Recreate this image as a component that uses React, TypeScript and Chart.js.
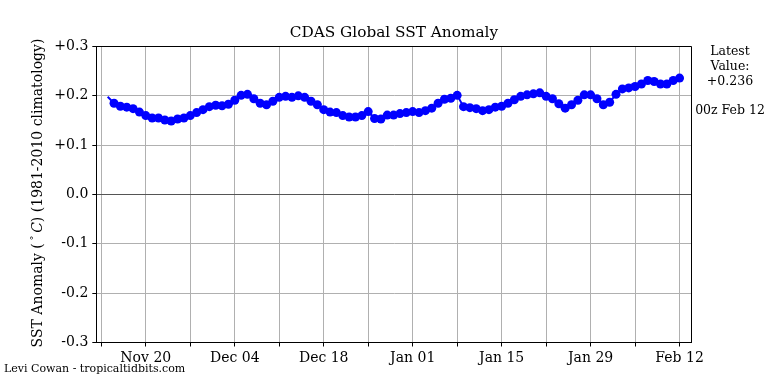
import React, { useEffect, useRef } from "react";
import { Chart, registerables } from "chart.js";

Chart.register(...registerables);

// ---- data ----
const ORIGIN_DATE = "2023-11-13"; // day 0 of the x scale
const DATES: string[] = [
  "2023-11-14", "2023-11-15", "2023-11-16", "2023-11-17", "2023-11-18", "2023-11-19", "2023-11-20",
  "2023-11-21", "2023-11-22", "2023-11-23", "2023-11-24", "2023-11-25", "2023-11-26", "2023-11-27",
  "2023-11-28", "2023-11-29", "2023-11-30", "2023-12-01", "2023-12-02", "2023-12-03", "2023-12-04",
  "2023-12-05", "2023-12-06", "2023-12-07", "2023-12-08", "2023-12-09", "2023-12-10", "2023-12-11",
  "2023-12-12", "2023-12-13", "2023-12-14", "2023-12-15", "2023-12-16", "2023-12-17", "2023-12-18",
  "2023-12-19", "2023-12-20", "2023-12-21", "2023-12-22", "2023-12-23", "2023-12-24", "2023-12-25",
  "2023-12-26", "2023-12-27", "2023-12-28", "2023-12-29", "2023-12-30", "2023-12-31", "2024-01-01",
  "2024-01-02", "2024-01-03", "2024-01-04", "2024-01-05", "2024-01-06", "2024-01-07", "2024-01-08",
  "2024-01-09", "2024-01-10", "2024-01-11", "2024-01-12", "2024-01-13", "2024-01-14", "2024-01-15",
  "2024-01-16", "2024-01-17", "2024-01-18", "2024-01-19", "2024-01-20", "2024-01-21", "2024-01-22",
  "2024-01-23", "2024-01-24", "2024-01-25", "2024-01-26", "2024-01-27", "2024-01-28", "2024-01-29",
  "2024-01-30", "2024-01-31", "2024-02-01", "2024-02-02", "2024-02-03", "2024-02-04", "2024-02-05",
  "2024-02-06", "2024-02-07", "2024-02-08", "2024-02-09", "2024-02-10", "2024-02-11", "2024-02-12",
];

const SST_ANOMALY: number[] = [
  0.198, 0.185, 0.179, 0.177, 0.174, 0.167, 0.160,
  0.155, 0.155, 0.151, 0.149, 0.153, 0.155, 0.160,
  0.166, 0.172, 0.178, 0.181, 0.180, 0.183, 0.191,
  0.201, 0.203, 0.194, 0.185, 0.182, 0.189, 0.197,
  0.199, 0.197, 0.200, 0.197, 0.189, 0.182, 0.172,
  0.167, 0.166, 0.160, 0.157, 0.157, 0.160, 0.168,
  0.154, 0.153, 0.161, 0.161, 0.164, 0.166, 0.168,
  0.166, 0.170, 0.175, 0.185, 0.193, 0.195, 0.201,
  0.178, 0.176, 0.174, 0.170, 0.172, 0.177, 0.179,
  0.185, 0.192, 0.199, 0.202, 0.204, 0.206, 0.199,
  0.194, 0.184, 0.175, 0.182, 0.191, 0.202, 0.202,
  0.194, 0.182, 0.187, 0.203, 0.214, 0.216, 0.219,
  0.224, 0.231, 0.229, 0.224, 0.224, 0.231, 0.236,
];

const X_TICK_DATES: string[] = [
  "2023-11-13", "2023-11-20", "2023-11-27", "2023-12-04", "2023-12-11", "2023-12-18", "2023-12-25",
  "2024-01-01", "2024-01-08", "2024-01-15", "2024-01-22", "2024-01-29", "2024-02-05", "2024-02-12",
];
const X_TICK_LABELS: Record<string, string> = {
  "2023-11-20": "Nov 20",
  "2023-12-04": "Dec 04",
  "2023-12-18": "Dec 18",
  "2024-01-01": "Jan 01",
  "2024-01-15": "Jan 15",
  "2024-01-29": "Jan 29",
  "2024-02-12": "Feb 12",
};
const Y_TICKS: number[] = [-0.3, -0.2, -0.1, 0, 0.1, 0.2, 0.3];
const Y_TICK_LABELS: string[] = ["-0.3", "-0.2", "-0.1", "0.0", "+0.1", "+0.2", "+0.3"];

const TITLE = "CDAS Global SST Anomaly";
const Y_TITLE_PRE = "SST Anomaly (";
const Y_TITLE_DEG = "\u00B0";
const Y_TITLE_UNIT = "C";
const Y_TITLE_POST = ") (1981-2010 climatology)";
const SIDE_TEXT = ["Latest", "Value:", "+0.236"];
const SIDE_TIME = "00z Feb 12";
const CREDIT = "Levi Cowan - tropicaltidbits.com";

// ---- helpers ----
const dayOf = (iso: string) => {
  const [y, m, d] = iso.split("-").map(Number);
  const [oy, om, od] = ORIGIN_DATE.split("-").map(Number);
  return Math.round((Date.UTC(y, m - 1, d) - Date.UTC(oy, om - 1, od)) / 86400000);
};

const X_MIN = -0.79;
const X_MAX = 92.88;
const FONT = "'DejaVu Serif', serif";

export default function App() {
  const ref = useRef<HTMLCanvasElement | null>(null);

  useEffect(() => {
    document.body.style.margin = "0";
    const canvas = ref.current;
    if (!canvas) return;

    const points = DATES.map((d, i) => ({ x: dayOf(d), y: SST_ANOMALY[i] }));
    const tickDays = X_TICK_DATES.map(dayOf);
    const labelByDay: Record<number, string> = {};
    X_TICK_DATES.forEach((d) => {
      labelByDay[dayOf(d)] = X_TICK_LABELS[d] || "";
    });

    const textPlugin = {
      id: "texts",
      afterDraw(chart: any) {
        const { ctx, chartArea } = chart;
        ctx.save();
        // frame
        const l = Math.floor(chartArea.left) + 0.5;
        const r = Math.floor(chartArea.right) + 0.5;
        const t = Math.floor(chartArea.top) + 0.5;
        const b = Math.floor(chartArea.bottom) + 0.5;
        ctx.strokeStyle = "#000";
        ctx.lineWidth = 1;
        ctx.beginPath();
        ctx.moveTo(l, t);
        ctx.lineTo(r, t);
        ctx.lineTo(r, b);
        ctx.stroke();
        ctx.fillStyle = "#000";
        ctx.textAlign = "center";
        ctx.textBaseline = "middle";
        // title
        ctx.font = `15.3px ${FONT}`;
        ctx.fillText(TITLE, (chartArea.left + chartArea.right) / 2, 33);
        // side text
        ctx.font = `12.5px ${FONT}`;
        SIDE_TEXT.forEach((s, i) => ctx.fillText(s, 730, 52 + i * 15));
        ctx.fillText(SIDE_TIME, 730, 111);
        // credit
        ctx.textAlign = "left";
        ctx.font = `11px ${FONT}`;
        ctx.fillText(CREDIT, 4, 369);
        // y title (rotated), built from pieces: normal, superscript degree, italic C
        ctx.translate(37, 193);
        ctx.rotate(-Math.PI / 2);
        ctx.textAlign = "left";
        ctx.textBaseline = "alphabetic";
        const fN = `14px ${FONT}`;
        const fS = `10px ${FONT}`;
        const fI = `italic 14px ${FONT}`;
        ctx.font = fN;
        const w1 = ctx.measureText(Y_TITLE_PRE).width;
        const sp = ctx.measureText(" ").width * 0.6;
        ctx.font = fS;
        const w2 = ctx.measureText(Y_TITLE_DEG).width;
        ctx.font = fI;
        const w3 = ctx.measureText(Y_TITLE_UNIT).width;
        ctx.font = fN;
        const w4 = ctx.measureText(Y_TITLE_POST).width;
        const total = w1 + sp + w2 + sp + w3 + w4;
        let x = -total / 2;
        const base = 5;
        ctx.font = fN;
        ctx.fillText(Y_TITLE_PRE, x, base);
        x += w1 + sp;
        ctx.font = fS;
        ctx.fillText(Y_TITLE_DEG, x, base - 5);
        x += w2 + sp;
        ctx.font = fI;
        ctx.fillText(Y_TITLE_UNIT, x, base);
        x += w3;
        ctx.font = fN;
        ctx.fillText(Y_TITLE_POST, x, base);
        ctx.restore();
      },
    };

    const chart = new Chart(canvas, {
      type: "line",
      data: {
        datasets: [
          {
            data: points,
            borderColor: "#0000ff",
            backgroundColor: "#0000ff",
            borderWidth: 2,
            tension: 0,
            pointRadius: (c: any) => (c.dataIndex === 0 ? 0 : 4.5),
            pointBorderWidth: 0,
            pointHoverRadius: 4.5,
          },
        ],
      },
      options: {
        responsive: false,
        animation: false,
        devicePixelRatio: 1,
        layout: { padding: { top: 46.5, right: 76.5, left: 0, bottom: 0 } },
        plugins: { legend: { display: false }, tooltip: { enabled: false }, title: { display: false } },
        scales: {
          x: {
            type: "linear",
            min: X_MIN,
            max: X_MAX,
            afterBuildTicks: (s: any) => {
              s.ticks = tickDays.map((v) => ({ value: v }));
            },
            afterFit: (s: any) => {
              s.height = 41.5;
            },
            ticks: {
              autoSkip: false,
              maxRotation: 0,
              color: "#000",
              padding: 3,
              font: { family: FONT, size: 14 },
              callback: (v: any) => labelByDay[Math.round(Number(v))] ?? "",
            },
            grid: { color: "#b0b0b0", lineWidth: 1, tickColor: "#000", tickLength: 4, drawTicks: true },
            border: { display: true, color: "#000", width: 1 },
          },
          y: {
            type: "linear",
            min: -0.3,
            max: 0.3,
            afterBuildTicks: (s: any) => {
              s.ticks = Y_TICKS.map((v) => ({ value: v }));
            },
            afterFit: (s: any) => {
              s.width = 96.3;
            },
            ticks: {
              color: "#000",
              padding: 4,
              font: { family: FONT, size: 14 },
              callback: (v: any) => {
                const i = Y_TICKS.findIndex((tk) => Math.abs(tk - Number(v)) < 1e-6);
                return i >= 0 ? Y_TICK_LABELS[i] : "";
              },
            },
            grid: {
              color: (c: any) => (c.tick && Math.abs(c.tick.value) < 1e-6 ? "#555555" : "#b0b0b0"),
              lineWidth: 1,
              tickColor: "#000",
              tickLength: 4,
              drawTicks: true,
            },
            border: { display: true, color: "#000", width: 1 },
          },
        },
      },
      plugins: [textPlugin],
    } as any);

    return () => chart.destroy();
  }, []);

  return (
    <div style={{ position: "absolute", left: 0, top: 0, width: 768, height: 384, background: "#fff" }}>
      <canvas ref={ref} width={768} height={384} style={{ display: "block" }} />
    </div>
  );
}
